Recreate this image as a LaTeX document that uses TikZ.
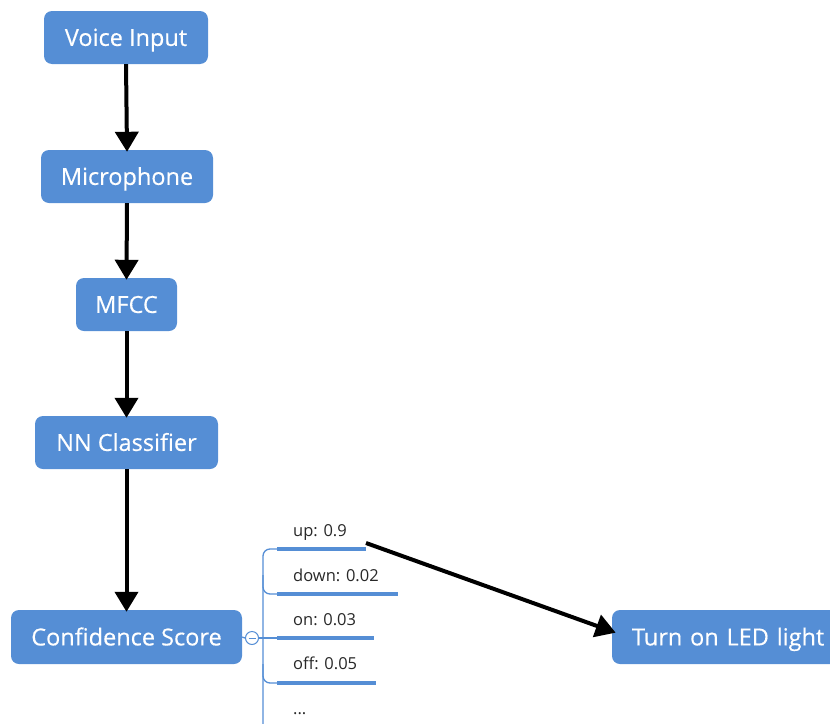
\documentclass[tikz,border=0pt]{standalone}
\usepackage{fontspec}
\setmainfont{Open Sans}
\newfontfamily\boxfont{Open Sans}[FakeBold=0.4]
\usetikzlibrary{arrows.meta,calc}
\definecolor{boxblue}{RGB}{85,142,213}
\definecolor{labelgray}{RGB}{40,40,40}
\tikzset{
  flowbox/.style={draw=none, fill=boxblue, rounded corners=8pt, text=white,
    inner sep=0pt, text height=16.8pt, text depth=0pt,
    font=\boxfont\fontsize{23.5}{23.5}\selectfont},
  flowarrow/.style={draw=black, line width=4pt, shorten >=-2pt,
    -{Triangle[length=20pt,width=23pt]}},
  treeline/.style={draw=boxblue, line width=1.3pt},
  scorebar/.style={draw=boxblue, line width=3.2pt},
  scorelabel/.style={anchor=base west, inner sep=0pt, text=labelgray,
    font=\fontsize{16.5}{16.5}\selectfont}
}
\begin{document}
\begin{tikzpicture}[x=1pt,y=-1pt]
\useasboundingbox (0,0) rectangle (830,723);
\clip (0,0) rectangle (830,723);

% main pipeline
\node[flowbox, minimum width=164pt, minimum height=53pt] (voice) at (126,37.5) {Voice Input};
\node[flowbox, minimum width=172pt, minimum height=53pt] (mic) at (127,176.5) {Microphone};
\node[flowbox, minimum width=101pt, minimum height=53pt] (mfcc) at (126.5,304.5) {MFCC};
\node[flowbox, minimum width=183pt, minimum height=53pt] (nn) at (126.5,442.5) {NN Classifier};
\node[flowbox, minimum width=231pt, minimum height=54pt] (conf) at (126.5,637) {Confidence Score};
\node[flowbox, minimum width=230pt, minimum height=54pt, text width=222pt, align=left] (led) at (727,637) {\hspace{16pt}Turn on LED light};

\draw[flowarrow] (voice.south) -- (mic.north);
\draw[flowarrow] (mic.south) -- (mfcc.north);
\draw[flowarrow] (mfcc.south) -- (nn.north);
\draw[flowarrow] (nn.south) -- (conf.north);

% score tree
\coordinate (upL) at (277,549);   \coordinate (upR) at (366,549);
\coordinate (downL) at (277,594); \coordinate (downR) at (398,594);
\coordinate (onL) at (277,638);   \coordinate (onR) at (374,638);
\coordinate (offL) at (277,683);  \coordinate (offR) at (376,683);
\coordinate (trunkEnd) at (263,740);

\node[circle, draw=boxblue, fill=white, line width=1pt, minimum size=13pt, inner sep=0pt] (toggle) at (252,638) {};
\draw[draw=boxblue, line width=1pt] ($(toggle.center)+(-3.5,0)$) -- ($(toggle.center)+(3.5,0)$);
\draw[treeline] (conf.east) -- (toggle.west);
\draw[treeline] (toggle.east) -- (onL);
\draw[treeline, rounded corners=7pt] (upL) -- (263,549) -- (trunkEnd);
\draw[treeline, rounded corners=7pt] (263,575) -- (263,594) -- (downL);
\draw[treeline, rounded corners=7pt] (263,664) -- (263,683) -- (offL);

\draw[scorebar] (upL) -- (upR);
\draw[scorebar] (downL) -- (downR);
\draw[scorebar] (onL) -- (onR);
\draw[scorebar] (offL) -- (offR);

\node[scorelabel] (lup) at (293,536) {up: 0.9};
\node[scorelabel] (ldown) at (293,581) {down: 0.02};
\node[scorelabel] (lon) at (293,625) {on: 0.03};
\node[scorelabel] (loff) at (293,669) {off: 0.05};
\node[scorelabel] (lmore) at (293,714) {...};

\draw[flowarrow] ($(upR)+(0,-6)$) -- ($(led.west)+(2,-5)$);
\end{tikzpicture}
\end{document}
